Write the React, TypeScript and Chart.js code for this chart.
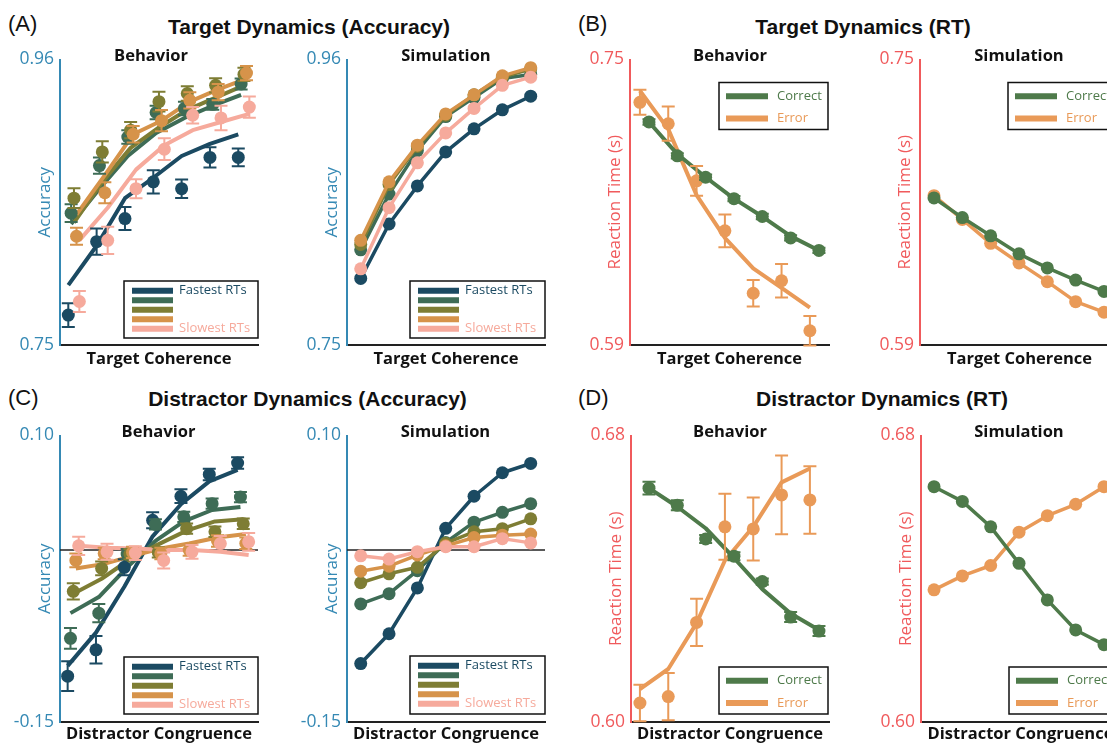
import React, { useEffect, useRef } from 'react';
import { Chart, registerables } from 'chart.js';

Chart.register(...registerables);

const SANS = '"Open Sans", "Noto Sans", sans-serif';
const HEAD = '"Liberation Sans", Arial, sans-serif';

// ---------- categories & labels ----------
const LEVELS = [0, 1, 2, 3, 4, 5, 6];
const RT_GROUPS = ['Fastest RTs', '', '', '', 'Slowest RTs'];
const OUTCOMES = ['Correct', 'Error'];
const GROUP_COLORS = ['#1b4a62', '#3e6c56', '#7e7d34', '#d6934a', '#f6aa9c'];
const OUTCOME_COLORS = ['#4e7a4a', '#e99a58'];
const ACC_AXIS = '#3589b4';
const RT_AXIS = '#f05a5c';
const GROUP_DODGE = [0, 0.1, 0.2, 0.29, 0.39];
const OUTCOME_DODGE = [0, -0.32];

// ---------- (A) Target dynamics, accuracy ----------
const TA_BEH_MEAN = [
  [0.772, 0.826, 0.843, 0.870, 0.865, 0.888, 0.888],
  [0.847, 0.882, 0.903, 0.921, 0.924, 0.927, 0.942],
  [0.858, 0.892, 0.908, 0.929, 0.935, 0.941, 0.949],
  [0.830, 0.862, 0.905, 0.915, 0.930, 0.936, 0.950],
  [0.782, 0.827, 0.865, 0.894, 0.919, 0.917, 0.925],
];
const TA_BEH_ERR = [
  [0.0088, 0.0097, 0.0085, 0.0085, 0.0068, 0.0075, 0.0066],
  [0.0066, 0.006, 0.005, 0.005, 0.005, 0.004, 0.004],
  [0.0073, 0.0078, 0.006, 0.0073, 0.0053, 0.0053, 0.0049],
  [0.0063, 0.0078, 0.006, 0.0078, 0.006, 0.006, 0.0053],
  [0.0078, 0.01, 0.007, 0.008, 0.006, 0.009, 0.0078],
];
const TA_BEH_FIT = [
  [0.794, 0.823, 0.858, 0.873, 0.889, 0.898, 0.905],
  [0.839, 0.865, 0.889, 0.906, 0.917, 0.926, 0.934],
  [0.840, 0.870, 0.895, 0.910, 0.923, 0.932, 0.941],
  [0.846, 0.875, 0.905, 0.915, 0.929, 0.938, 0.946],
  [0.827, 0.851, 0.879, 0.897, 0.908, 0.914, 0.920],
];
const TA_SIM = [
  [0.799, 0.839, 0.867, 0.892, 0.909, 0.923, 0.933],
  [0.820, 0.861, 0.893, 0.918, 0.932, 0.946, 0.949],
  [0.824, 0.868, 0.896, 0.919, 0.934, 0.947, 0.953],
  [0.827, 0.870, 0.897, 0.920, 0.934, 0.948, 0.954],
  [0.806, 0.851, 0.884, 0.906, 0.924, 0.941, 0.947],
];

// ---------- (B) Target dynamics, RT ----------
const TR_BEH_MEAN = [
  [0.715, 0.696, 0.684, 0.672, 0.662, 0.650, 0.643],
  [0.726, 0.714, 0.682, 0.654, 0.619, 0.626, 0.598],
];
const TR_BEH_ERR = [
  [0.0015, 0.0015, 0.0015, 0.0015, 0.0015, 0.0015, 0.0015],
  [0.007, 0.0096, 0.0083, 0.0092, 0.0074, 0.0094, 0.0083],
];
const TR_BEH_FIT = [
  [0.715, 0.697, 0.684, 0.672, 0.662, 0.651, 0.643],
  [0.7325, 0.711, 0.674, 0.650, 0.633, 0.622, 0.611],
];
const TR_SIM = [
  [0.6724, 0.6614, 0.6512, 0.6411, 0.6332, 0.6264, 0.620],
  [0.6737, 0.6604, 0.6470, 0.636, 0.6255, 0.6143, 0.6084],
];

// ---------- (C) Distractor dynamics, accuracy ----------
const DA_BEH_MEAN = [
  [-0.110, -0.087, -0.015, 0.026, 0.047, 0.066, 0.076],
  [-0.077, -0.055, -0.0035, 0.0224, 0.029, 0.0405, 0.0463],
  [-0.036, -0.016, -0.0035, -0.002, 0.0187, 0.016, 0.023],
  [-0.009, -0.003, -0.002, -0.003, 0.0, 0.008, 0.006],
  [0.0037, -0.0015, -0.0026, -0.009, -0.0015, 0.0057, 0.0072],
];
const DA_BEH_ERR = [
  [0.013, 0.012, 0.007, 0.007, 0.006, 0.005, 0.005],
  [0.009, 0.008, 0.0045, 0.0045, 0.0045, 0.0045, 0.0045],
  [0.007, 0.006, 0.0045, 0.0045, 0.0045, 0.0045, 0.0045],
  [0.006, 0.005, 0.005, 0.005, 0.005, 0.005, 0.005],
  [0.008, 0.007, 0.006, 0.007, 0.006, 0.0065, 0.0078],
];
const DA_BEH_FIT = [
  [-0.101, -0.072, -0.032, 0.012, 0.040, 0.060, 0.070],
  [-0.055, -0.041, -0.015, 0.008, 0.025, 0.035, 0.0377],
  [-0.038, -0.025, -0.008, 0.005, 0.017, 0.025, 0.027],
  [-0.016, -0.012, -0.005, 0.0014, 0.0057, 0.011, 0.014],
  [0.0037, 0.002, 0.0014, 0.0, 0.0, -0.0014, -0.0043],
];
const DA_SIM = [
  [-0.099, -0.073, -0.033, 0.019, 0.047, 0.0675, 0.0756],
  [-0.047, -0.038, -0.018, 0.0066, 0.0244, 0.033, 0.0405],
  [-0.0285, -0.0207, -0.015, 0.006, 0.016, 0.0187, 0.0273],
  [-0.0184, -0.014, -0.0043, 0.0037, 0.011, 0.013, 0.014],
  [-0.005, -0.0078, -0.0014, 0.0029, 0.0029, 0.010, 0.0063],
];

// ---------- (D) Distractor dynamics, RT ----------
const DR_BEH_MEAN = [
  [0.6653, 0.6605, 0.6511, 0.6463, 0.6392, 0.6293, 0.6254],
  [0.6053, 0.6071, 0.6278, 0.6545, 0.6539, 0.6634, 0.662],
];
const DR_BEH_ERR = [
  [0.0018, 0.0014, 0.0011, 0.0011, 0.0009, 0.0014, 0.0014],
  [0.0051, 0.0066, 0.0066, 0.0092, 0.0088, 0.011, 0.0094],
];
const DR_BEH_FIT = [
  [0.6653, 0.6601, 0.6541, 0.6458, 0.6371, 0.6303, 0.6257],
  [0.6092, 0.6148, 0.6276, 0.6451, 0.6545, 0.6669, 0.6708],
];
const DR_SIM = [
  [0.6657, 0.6616, 0.6545, 0.6443, 0.6341, 0.6257, 0.6216],
  [0.6369, 0.6408, 0.6437, 0.6530, 0.6576, 0.6608, 0.6657],
];

// ---------- layout constants ----------
const Y_W = 60;
const PAD_T = 12;
const PAD_R = 10;
const X_H = 28;

const pts = (vals: number[], dodge = 0) => vals.map((y, i) => ({ x: LEVELS[i] + dodge, y }));

function fitDs(vals: number[], color: string, dodge: number, order: number) {
  return {
    data: pts(vals, dodge), borderColor: color, backgroundColor: color, borderWidth: 4,
    pointRadius: 0, showLine: true, tension: 0, clip: false, order, borderJoinStyle: 'round',
  };
}
function meanDs(vals: number[], errs: number[], color: string, dodge: number, order: number) {
  return {
    data: pts(vals, dodge), showLine: false, pointRadius: 6.5, pointHoverRadius: 6.5,
    pointBackgroundColor: color, pointBorderWidth: 0, borderColor: color, backgroundColor: color,
    errors: errs, clip: false, order,
  };
}
function simDs(vals: number[], color: string, order: number) {
  return {
    data: pts(vals), borderColor: color, backgroundColor: color, borderWidth: 3.5, tension: 0,
    pointRadius: 6.5, pointHoverRadius: 6.5, pointBackgroundColor: color, pointBorderWidth: 0,
    clip: false, order, borderJoinStyle: 'round',
  };
}

const errorBarPlugin = {
  id: 'errorBars',
  beforeDatasetDraw(chart: any, args: any) {
    const ds = chart.data.datasets[args.index];
    if (!ds.errors) return;
    const meta = args.meta;
    const ys = chart.scales[meta.yAxisID];
    const ctx = chart.ctx;
    ctx.save();
    ctx.strokeStyle = ds.borderColor;
    ctx.lineWidth = 2;
    meta.data.forEach((p: any, i: number) => {
      const v = ds.data[i].y;
      const e = ds.errors[i];
      const y1 = ys.getPixelForValue(v + e);
      const y2 = ys.getPixelForValue(v - e);
      ctx.beginPath();
      ctx.moveTo(p.x, y1); ctx.lineTo(p.x, y2);
      ctx.moveTo(p.x - 6.5, y1); ctx.lineTo(p.x + 6.5, y1);
      ctx.moveTo(p.x - 6.5, y2); ctx.lineTo(p.x + 6.5, y2);
      ctx.stroke();
    });
    ctx.restore();
  },
};

function zeroLinePlugin() {
  return {
    id: 'zeroLine',
    beforeDatasetsDraw(chart: any) {
      const { ctx, chartArea } = chart;
      const y = chart.scales.y.getPixelForValue(0);
      ctx.save();
      ctx.strokeStyle = '#222';
      ctx.lineWidth = 1.5;
      ctx.beginPath();
      ctx.moveTo(chartArea.left, y);
      ctx.lineTo(chartArea.right, y);
      ctx.stroke();
      ctx.restore();
    },
  };
}

function boxLegendPlugin(spec: any) {
  return {
    id: 'boxLegend',
    afterDraw(chart: any) {
      const { ctx, chartArea } = chart;
      const bx = chartArea.right + spec.dx - spec.w;
      const by = spec.anchor === 'top' ? chartArea.top + spec.dy : chartArea.bottom - spec.dy - spec.h;
      ctx.save();
      ctx.fillStyle = '#fff';
      ctx.fillRect(bx, by, spec.w, spec.h);
      ctx.strokeStyle = '#111';
      ctx.lineWidth = 1.5;
      ctx.strokeRect(bx, by, spec.w, spec.h);
      spec.items.forEach((it: any, i: number) => {
        const y = by + spec.row0 + i * spec.rowGap;
        ctx.strokeStyle = it.color;
        ctx.lineWidth = spec.lineW;
        ctx.lineCap = 'butt';
        ctx.beginPath();
        ctx.moveTo(bx + spec.x0, y);
        ctx.lineTo(bx + spec.x1, y);
        ctx.stroke();
        if (it.label) {
          ctx.fillStyle = it.color;
          ctx.font = `${spec.fontSize}px ${SANS}`;
          ctx.textBaseline = 'middle';
          ctx.textAlign = 'left';
          ctx.fillText(it.label, bx + spec.textX, y);
        }
      });
      ctx.restore();
    },
  };
}

const accLegend = (dx: number, dy: number, w: number, h: number) => ({
  anchor: 'bottom', dx, dy, w, h, row0: 9.7, rowGap: 9.5, x0: 8, x1: 49, lineW: 6, textX: 55, fontSize: 13,
  items: RT_GROUPS.map((label, i) => ({ label, color: GROUP_COLORS[i] })),
});
const rtLegend = (anchor: string, dx: number, dy: number) => ({
  anchor, dx, dy, w: 109, h: 47, row0: 13.7, rowGap: 22.3, x0: 7, x1: 49, lineW: 6, textX: 58, fontSize: 13,
  items: OUTCOMES.map((label, i) => ({ label, color: OUTCOME_COLORS[i] })),
});

function makeConfig(o: any) {
  const { datasets, xMin, xMax, yMin, yMax, axisColor, yTitle, xTitle, xGap, legend, zero } = o;
  const plugins: any[] = [errorBarPlugin, boxLegendPlugin(legend)];
  if (zero) plugins.unshift(zeroLinePlugin());
  return {
    type: 'line',
    data: { datasets },
    options: {
      responsive: false,
      animation: false,
      events: [],
      layout: { padding: { top: PAD_T, right: PAD_R, bottom: 0, left: 0 } },
      plugins: { legend: { display: false }, tooltip: { enabled: false }, title: { display: false } },
      scales: {
        x: {
          type: 'linear', min: xMin, max: xMax,
          afterFit: (s: any) => { s.height = X_H; },
          grid: { display: false, drawTicks: false },
          border: { display: true, color: '#222', width: 2 },
          ticks: { display: false },
          title: {
            display: true, text: xTitle, color: '#111',
            font: { family: SANS, size: 16.5, weight: 'bold' },
            padding: { top: 0, bottom: X_H - xGap - 9.9 },
          },
        },
        y: {
          type: 'linear', position: 'left', min: yMin, max: yMax,
          afterBuildTicks: (s: any) => { s.ticks = [{ value: yMin }, { value: yMax }]; },
          afterFit: (s: any) => { s.width = Y_W; },
          grid: { display: false, drawTicks: false },
          border: { display: true, color: axisColor, width: 2 },
          ticks: {
            color: axisColor, padding: 6, autoSkip: false,
            font: { family: SANS, size: 17.5 },
            callback: (v: any) => Number(v).toFixed(2),
          },
          title: {
            display: true, text: yTitle, color: axisColor,
            font: { family: SANS, size: 17 },
            padding: { top: Y_W - 15 - 10.2, bottom: 0 },
          },
        },
      },
    },
    plugins,
  };
}

function groupBehavior(mean: number[][], err: number[][], fit: number[][]) {
  const fits = fit.map((v, i) => fitDs(v, GROUP_COLORS[i], GROUP_DODGE[i], 20 - i));
  const means = mean.map((v, i) => meanDs(v, err[i], GROUP_COLORS[i], GROUP_DODGE[i], 10 - i));
  return [...fits, ...means];
}
function groupSim(sim: number[][]) {
  return sim.map((v, i) => simDs(v, GROUP_COLORS[i], 10 - i));
}
function outcomeBehavior(mean: number[][], err: number[][], fit: number[][]) {
  const fits = fit.map((v, i) => fitDs(v, OUTCOME_COLORS[i], OUTCOME_DODGE[i], 20 + i));
  const means = mean.map((v, i) => meanDs(v, err[i], OUTCOME_COLORS[i], OUTCOME_DODGE[i], 10 + i));
  return [...fits, ...means];
}
function outcomeSim(sim: number[][]) {
  return sim.map((v, i) => simDs(v, OUTCOME_COLORS[i], 10 + i));
}

const PANELS = [
  {
    key: 'a1', area: { l: 60, t: 55, r: 258, b: 345 },
    make: () => makeConfig({
      datasets: groupBehavior(TA_BEH_MEAN, TA_BEH_ERR, TA_BEH_FIT), xMin: -0.293, xMax: 6.696,
      yMin: 0.75, yMax: 0.96, axisColor: ACC_AXIS, yTitle: 'Accuracy', xTitle: 'Target Coherence', xGap: 14,
      legend: accLegend(0, 7, 134, 57),
    }),
  },
  {
    key: 'a2', area: { l: 347, t: 55, r: 545, b: 345 },
    make: () => makeConfig({
      datasets: groupSim(TA_SIM), xMin: -0.484, xMax: 6.505,
      yMin: 0.75, yMax: 0.96, axisColor: ACC_AXIS, yTitle: 'Accuracy', xTitle: 'Target Coherence', xGap: 14,
      legend: accLegend(0, 7, 135, 57),
    }),
  },
  {
    key: 'b1', area: { l: 630, t: 55, r: 829, b: 345 },
    make: () => makeConfig({
      datasets: outcomeBehavior(TR_BEH_MEAN, TR_BEH_ERR, TR_BEH_FIT), xMin: -0.67, xMax: 6.355,
      yMin: 0.59, yMax: 0.75, axisColor: RT_AXIS, yTitle: 'Reaction Time (s)', xTitle: 'Target Coherence', xGap: 14,
      legend: rtLegend('top', -1, 23),
    }),
  },
  {
    key: 'b2', area: { l: 920, t: 55, r: 1119, b: 345 },
    make: () => makeConfig({
      datasets: outcomeSim(TR_SIM), xMin: -0.494, xMax: 6.53,
      yMin: 0.59, yMax: 0.75, axisColor: RT_AXIS, yTitle: 'Reaction Time (s)', xTitle: 'Target Coherence', xGap: 14,
      legend: rtLegend('top', -2, 23),
    }),
  },
  {
    key: 'c1', area: { l: 60, t: 431, r: 258, b: 722 },
    make: () => makeConfig({
      datasets: groupBehavior(DA_BEH_MEAN, DA_BEH_ERR, DA_BEH_FIT), xMin: -0.27, xMax: 6.72,
      yMin: -0.15, yMax: 0.10, axisColor: ACC_AXIS, yTitle: 'Accuracy', xTitle: 'Distractor Congruence', xGap: 12,
      legend: accLegend(0, 8, 134, 57), zero: true,
    }),
  },
  {
    key: 'c2', area: { l: 347, t: 431, r: 545, b: 722 },
    make: () => makeConfig({
      datasets: groupSim(DA_SIM), xMin: -0.484, xMax: 6.505,
      yMin: -0.15, yMax: 0.10, axisColor: ACC_AXIS, yTitle: 'Accuracy', xTitle: 'Distractor Congruence', xGap: 12,
      legend: accLegend(0, 8, 135, 58), zero: true,
    }),
  },
  {
    key: 'd1', area: { l: 631, t: 431, r: 829, b: 722 },
    make: () => makeConfig({
      datasets: outcomeBehavior(DR_BEH_MEAN, DR_BEH_ERR, DR_BEH_FIT), xMin: -0.635, xMax: 6.354,
      yMin: 0.60, yMax: 0.68, axisColor: RT_AXIS, yTitle: 'Reaction Time (s)', xTitle: 'Distractor Congruence', xGap: 12,
      legend: rtLegend('bottom', -1, 8),
    }),
  },
  {
    key: 'd2', area: { l: 921, t: 431, r: 1120, b: 722 },
    make: () => makeConfig({
      datasets: outcomeSim(DR_SIM), xMin: -0.46, xMax: 6.565,
      yMin: 0.60, yMax: 0.68, axisColor: RT_AXIS, yTitle: 'Reaction Time (s)', xTitle: 'Distractor Congruence', xGap: 12,
      legend: rtLegend('bottom', -2, 8),
    }),
  },
];

const PANEL_LETTERS = [
  { text: '(A)', x: 8, y: 24 },
  { text: '(B)', x: 578, y: 24 },
  { text: '(C)', x: 8, y: 398 },
  { text: '(D)', x: 578, y: 398 },
];
const SECTION_TITLES = [
  { text: 'Target Dynamics (Accuracy)', x: 309, y: 26 },
  { text: 'Target Dynamics (RT)', x: 863, y: 26 },
  { text: 'Distractor Dynamics (Accuracy)', x: 307.5, y: 398 },
  { text: 'Distractor Dynamics (RT)', x: 882, y: 398 },
];
const SUBPLOT_TITLES = [
  { text: 'Behavior', x: 151, y: 55 },
  { text: 'Simulation', x: 446, y: 55 },
  { text: 'Behavior', x: 730, y: 55 },
  { text: 'Simulation', x: 1019, y: 55 },
  { text: 'Behavior', x: 158.5, y: 431 },
  { text: 'Simulation', x: 445.5, y: 431 },
  { text: 'Behavior', x: 730, y: 431 },
  { text: 'Simulation', x: 1019, y: 431 },
];

function Panel({ area, make }: any) {
  const ref = useRef<HTMLCanvasElement | null>(null);
  useEffect(() => {
    const chart = new Chart(ref.current as HTMLCanvasElement, make());
    return () => chart.destroy();
  }, []);
  const w = Y_W + (area.r - area.l) + PAD_R;
  const h = PAD_T + (area.b - area.t) + X_H;
  return (
    <canvas
      ref={ref}
      width={w}
      height={h}
      style={{ position: 'absolute', left: area.l - Y_W, top: area.t - PAD_T, width: w, height: h }}
    />
  );
}

function Label({ text, x, y, font, left }: any) {
  return (
    <div
      style={{
        position: 'absolute', left: x, top: y, font, lineHeight: 1, whiteSpace: 'nowrap', color: '#111',
        transform: left ? 'translate(0,-50%)' : 'translate(-50%,-50%)',
      }}
    >
      {text}
    </div>
  );
}

export default function App() {
  return (
    <div style={{ position: 'fixed', left: 0, top: 0, width: 1107, height: 745, overflow: 'hidden', background: '#fff' }}>
      {PANELS.map((p) => <Panel key={p.key} area={p.area} make={p.make} />)}
      {PANEL_LETTERS.map((t, i) => <Label key={'l' + i} {...t} left font={`22px ${HEAD}`} />)}
      {SECTION_TITLES.map((t, i) => <Label key={'s' + i} {...t} font={`bold 21px ${HEAD}`} />)}
      {SUBPLOT_TITLES.map((t, i) => <Label key={'p' + i} {...t} font={`bold 16.5px ${SANS}`} />)}
    </div>
  );
}
